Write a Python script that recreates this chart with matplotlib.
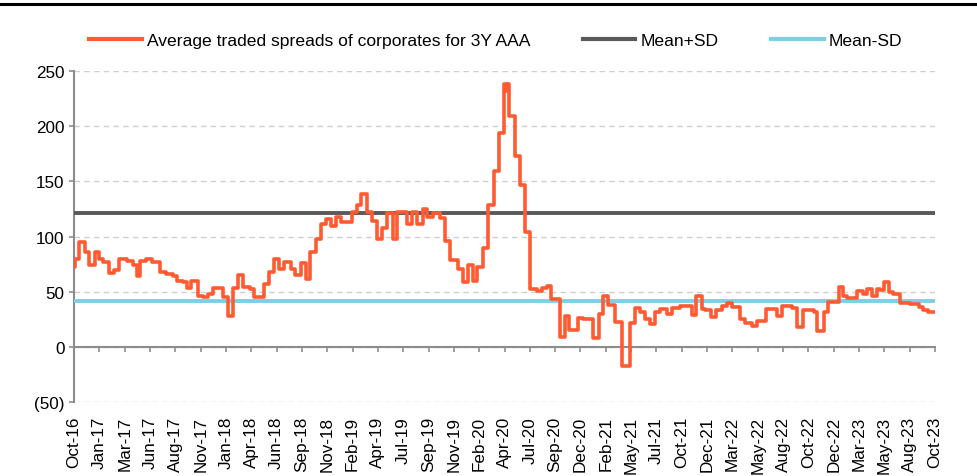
import numpy as np
import matplotlib.pyplot as plt
from matplotlib.lines import Line2D
from matplotlib.ticker import FuncFormatter

plt.rcParams['font.family'] = ['Liberation Sans', 'DejaVu Sans']

# axis labels, evenly spaced along the time axis
tick_labels = ['Oct-16', 'Jan-17', 'Mar-17', 'Jun-17', 'Aug-17', 'Nov-17', 'Jan-18',
               'Apr-18', 'Jun-18', 'Sep-18', 'Nov-18', 'Feb-19', 'Apr-19', 'Jul-19',
               'Sep-19', 'Nov-19', 'Feb-20', 'Apr-20', 'Jul-20', 'Sep-20', 'Dec-20',
               'Feb-21', 'May-21', 'Jul-21', 'Oct-21', 'Dec-21', 'Mar-22', 'May-22',
               'Aug-22', 'Oct-22', 'Dec-22', 'Mar-23', 'May-23', 'Aug-23', 'Oct-23']

# time position (in label intervals) where each spread level starts
t = [0.00, 0.03, 0.21, 0.43, 0.59, 0.83, 1.00, 1.16, 1.40, 1.58, 1.79, 2.11, 2.34, 2.48,
     2.61, 2.84, 3.07, 3.40, 3.63, 3.90, 4.08, 4.32, 4.48, 4.61, 4.91, 5.11, 5.31, 5.48,
     5.87, 6.10, 6.29, 6.49, 6.69, 6.95, 7.11, 7.50, 7.71, 7.90, 8.11, 8.29, 8.55, 8.73,
     8.95, 9.16, 9.32, 9.56, 9.74, 9.94, 10.14, 10.35, 10.55, 10.97, 11.16, 11.32, 11.56,
     11.76, 11.95, 12.15, 12.35, 12.59, 12.77, 13.14, 13.34, 13.56, 13.80, 13.95, 14.17,
     14.45, 14.65, 14.85, 15.18, 15.38, 15.57, 15.77, 15.93, 16.17, 16.36, 16.59, 16.80,
     16.98, 17.08, 17.12, 17.19, 17.42, 17.61, 17.81, 18.01, 18.27, 18.47, 18.67, 18.85,
     19.19, 19.39, 19.56, 19.92, 20.11, 20.51, 20.75, 20.90, 21.10, 21.37, 21.63, 21.96,
     22.16, 22.35, 22.55, 22.75, 22.95, 23.14, 23.41, 23.61, 23.93, 24.40, 24.57, 24.79,
     24.92, 25.14, 25.36, 25.58, 25.80, 25.97, 26.30, 26.50, 26.76, 26.96, 27.33, 27.75,
     27.95, 28.35, 28.57, 28.80, 29.23, 29.36, 29.62, 29.79, 30.20, 30.36, 30.52, 30.94,
     31.15, 31.33, 31.50, 31.70, 31.83, 31.99, 32.20, 32.33, 32.62, 33.02, 33.35, 33.54,
     33.74, 34.00]

# average traded spread, 3Y AAA corporates (bps)
spread = [72, 80, 95, 86, 74, 86, 80, 77, 67, 70, 80, 78, 74, 64.5,
          78, 80, 77, 68, 66, 64.5, 60, 59, 53, 60, 46.5, 45, 48, 53,
          45, 28, 53, 65, 54, 52.5, 45, 57, 67.6, 80, 70.6, 76.7, 71, 65,
          76, 61.6, 86, 98, 111, 116, 110, 117.5, 113.5, 122, 128.6, 138.6, 122,
          114.4, 97.8, 108, 121, 98, 122.6, 111, 122, 111, 125, 117.5, 121,
          116.5, 96.3, 79, 70.6, 59, 74, 59.5, 72, 90, 128.6, 159.7, 193.8,
          238, 232, 238, 209.5, 173.3, 146.7, 103.9, 52.5, 51, 53, 55.5, 43.5,
          8.8, 28, 15.7, 26, 25, 7.9, 30, 46, 38, 22.3, -17, 22,
          35, 31.4, 25.5, 20.8, 31.4, 34.4, 30, 35, 36.8, 29, 46.5, 34.4,
          33, 26.9, 33, 37.4, 39.9, 35.7, 25.4, 21.7, 19.3, 23.8, 34.4, 28.4,
          37.4, 35, 17.8, 33.8, 31.4, 14.8, 31.4, 40.5, 54, 46.5, 44, 51,
          48.3, 52.6, 46.5, 52.6, 51.5, 58.6, 49.6, 48.3, 39.9, 39, 35.7, 33,
          31.4, 31.4]

mean_plus_sd = 121.4
mean_minus_sd = 41.7

orange = '#FF5A32'
dark = '#595959'
light_blue = '#7ECFE5'
axis_grey = '#8C8C8C'

fig = plt.figure(figsize=(9.78, 4.77), dpi=100)
ax = fig.add_axes([0.0757, 0.155, 0.8803, 0.694])

ax.set_xlim(0, 34)
ax.set_ylim(-50, 250)
ax.set_yticks(np.arange(-50, 251, 50))
ax.yaxis.set_major_formatter(FuncFormatter(lambda v, _: f'({abs(v):.0f})' if v < 0 else f'{v:.0f}'))
ax.yaxis.grid(True, linestyle=(0, (4, 3)), color='#CFCFCF', linewidth=1)
ax.set_axisbelow(True)

for side in ['top', 'right']:
    ax.spines[side].set_visible(False)
ax.spines['left'].set_color(axis_grey)
ax.spines['left'].set_linewidth(1.5)
ax.spines['bottom'].set_position(('data', 0))
ax.spines['bottom'].set_color(axis_grey)
ax.spines['bottom'].set_linewidth(1.5)

ax.set_xticks(range(len(tick_labels)))
ax.tick_params(axis='x', direction='out', length=3.8, width=1.2, color=axis_grey, labelbottom=False)
ax.tick_params(axis='y', direction='out', length=3.8, width=1.2, color=axis_grey, labelsize=12.3, pad=3)

# date labels sit under the plot, not on the zero line
sec = ax.secondary_xaxis('bottom')
sec.set_xticks(range(len(tick_labels)), labels=tick_labels, rotation=90)
sec.tick_params(length=0, pad=10, labelsize=12.3)
sec.spines['bottom'].set_visible(False)

ax.axhline(mean_plus_sd, color=dark, linewidth=2.8, zorder=3)
ax.axhline(mean_minus_sd, color=light_blue, linewidth=2.8, zorder=3)
ax.plot(t, spread, drawstyle='steps-post', color=orange, linewidth=2.6, zorder=4)

handles = [Line2D([], [], color=orange, linewidth=3),
           Line2D([], [], color=dark, linewidth=3),
           Line2D([], [], color=light_blue, linewidth=3)]
labels = ['Average traded spreads of corporates for 3Y AAA', 'Mean+SD', 'Mean-SD']
fig.legend(handles, labels, ncol=3, loc='center', bbox_to_anchor=(0.507, 0.914),
           frameon=False, fontsize=12.6, handlelength=3.0, handletextpad=0.3, columnspacing=3.0)

# heavy rule across the top of the figure
fig.add_artist(Line2D([0, 1], [0.99, 0.99], transform=fig.transFigure, color='black', linewidth=2.2))

fig.savefig('out.png', dpi=100)
